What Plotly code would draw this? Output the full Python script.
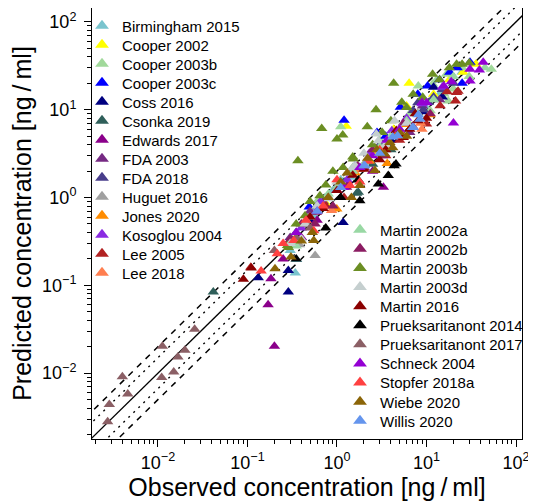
import plotly.graph_objects as go

studies = ["Birmingham 2015", "Cooper 2002", "Cooper 2003b", "Cooper 2003c", "Coss 2016",
           "Csonka 2019", "Edwards 2017", "FDA 2003", "FDA 2018", "Huguet 2016", "Jones 2020",
           "Kosoglou 2004", "Lee 2005", "Lee 2018", "Martin 2002a", "Martin 2002b",
           "Martin 2003b", "Martin 2003d", "Martin 2016", "Prueksaritanont 2014",
           "Prueksaritanont 2017", "Schneck 2004", "Stopfer 2018a", "Wiebe 2020", "Willis 2020"]

colors = ["#79c4ce", "#ffff00", "#a1d99b", "#0000ff", "#000080", "#2f5f5a", "#8b008b",
          "#762a83", "#483d8b", "#a0a0a0", "#ff8c00", "#8a2be2", "#b22222", "#ff7f50",
          "#99d8a4", "#8b1c62", "#6b8e23", "#c5cfcf", "#8b0000", "#000000", "#8b5f65",
          "#9400d3", "#ff4040", "#8b6508", "#6495ed"]

obs = {
    "Birmingham 2015": [0.342, 0.354, 0.30, 0.55, 0.9, 1.4, 2.2, 3.5, 6.0, 9.5, 14, 25, 1.1, 0.7, 0.42, 4.5],
    "Cooper 2002": [6.4, 35.7, 25.6, 6.0, 1.27, 0.77, 12, 18, 2.5, 4.3],
    "Cooper 2003b": [16.7, 11.7, 20, 17.5, 53, 8.1, 15.6, 11, 1.1, 25, 30, 13, 6.5, 3, 1.5, 0.6, 9],
    "Cooper 2003c": [1.2, 0.49, 10.3, 18.2, 30.6, 5.1, 2.8, 14, 22, 8, 1.6, 3.5, 25],
    "Coss 2016": [0.286, 0.286, 0.132, 1.17, 0.5, 2.0, 4, 9, 15, 12],
    "Csonka 2019": [0.0415, 1.66, 1.73, 0.8, 0.45, 2.5, 3.2, 5.5, 0.6, 1.2, 0.35, 4],
    "Edwards 2017": [0.2, 0.17, 0.183, 3.3, 0.25, 0.6, 1.3, 2.5, 0.4],
    "FDA 2003": [0.5, 1.0, 2.2, 5, 9, 0.3, 1.5, 14, 3.5, 0.7, 6.5],
    "FDA 2018": [10.5, 7.1, 9.2, 12, 20, 5, 3, 8, 15],
    "Huguet 2016": [0.57, 0.38, 0.3, 0.7, 1.2, 2.0, 0.45],
    "Jones 2020": [3.64, 0.995, 11, 0.6, 1.6, 6, 2.3],
    "Kosoglou 2004": [4.1, 8.9, 0.65, 1.3, 2.3, 0.4, 6, 15, 1.0, 3.0],
    "Lee 2005": [21.7, 21.1, 14.2, 10, 22.5, 0.109, 0.75, 2, 5, 17, 1.2, 3.5, 8],
    "Lee 2018": [0.87, 8.9, 8.6, 0.45, 1.8, 3.5, 5.5],
    "Martin 2002a": [0.35, 0.5, 1.0, 2.0, 4.0, 8.0, 12, 20, 45, 0.8, 0.6, 1.5, 3, 6],
    "Martin 2002b": [0.59, 0.57, 1.28, 0.3, 0.8, 2.5, 4.5, 7, 1.7, 0.4, 11, 3.2, 5.5, 0.9],
    "Martin 2003b": [0.366, 0.675, 1.0, 1.16, 2.73, 4.3, 2.18, 11.7, 1.5, 0.75, 0.44, 0.35,
                     21.7, 7.1, 9.1, 5.3, 0.28, 18, 6.0, 1.17, 1.52, 0.645, 0.286, 3.2, 25,
                     0.5, 0.9, 2.5, 4.0, 14, 30],
    "Martin 2003d": [2.9, 4.4, 1.52, 1.3, 2.75, 1.6, 0.82, 0.44, 0.4, 0.3, 3.5, 6, 0.6, 1.0, 2.0, 5],
    "Martin 2016": [5.5, 0.11, 0.09, 6.5, 8, 3.5, 2.0, 1.0, 0.5, 10, 4.6, 1.5, 3, 7.5, 0.7],
    "Prueksaritanont 2014": [4.56, 3.74, 2.9, 1.8, 1.73, 4.35, 0.75, 0.35, 1.1],
    "Prueksaritanont 2017": [0.00274, 0.00286, 0.0040, 0.0046, 0.0112, 0.011, 0.015, 0.0167,
                             0.020, 0.0257, 0.2, 0.35, 0.5],
    "Schneck 2004": [43, 39, 30.6, 30.6, 15.6, 20, 8.9, 18.9, 1.2, 0.6, 2.5, 5, 0.35, 1.8, 3.6, 10],
    "Stopfer 2018a": [0.142, 0.215, 0.33, 1.4, 0.7, 2.2, 0.45, 1.0, 3, 0.55, 0.25, 1.8, 4.5],
    "Wiebe 2020": [2.65, 3.9, 3.4, 1.8, 1.45, 0.55, 0.53, 0.306, 0.203, 3.15, 4.2, 1.1, 2.2, 0.8, 5,
                   1.3, 2.8, 6, 0.4],
    "Willis 2020": [8.45, 7.0, 8.1, 7.1, 2.05, 4.75, 4.2, 2.0, 1.1, 0.6, 3],
}

pred = {
    "Birmingham 2015": [0.138, 0.197, 0.25, 0.62, 1.2, 1.7, 2.6, 3.9, 7.2, 11, 15, 27, 1.6, 0.9, 0.5, 5.5],
    "Cooper 2002": [20, 33, 26.8, 11.0, 6.5, 0.83, 15, 22, 3.2, 6.0],
    "Cooper 2003b": [25.4, 19.6, 17.2, 12.6, 29, 18.6, 15.1, 9.75, 6.4, 30, 24, 22, 9, 4.5, 2.2, 0.9, 14],
    "Cooper 2003c": [7.6, 0.78, 18.6, 26.8, 34.7, 10.7, 5.5, 22, 30, 15, 2.3, 5, 20],
    "Coss 2016": [0.084, 0.148, 0.122, 0.52, 0.55, 2.2, 4.5, 9.5, 14, 18],
    "Csonka 2019": [0.084, 1.12, 1.15, 1.0, 0.5, 2.4, 4, 5.2, 0.8, 1.5, 0.4, 3.5],
    "Edwards 2017": [0.0203, 0.06, 0.119, 1.31, 0.2, 0.55, 1.5, 2.0, 0.35],
    "FDA 2003": [0.7, 1.3, 2.6, 6, 11, 0.35, 2.0, 13, 4.0, 0.9, 5.5],
    "FDA 2018": [12.1, 9.8, 10.0, 14, 20, 6, 4, 12, 17],
    "Huguet 2016": [0.219, 0.29, 0.3, 0.8, 1.4, 2.4, 0.5],
    "Jones 2020": [2.45, 0.74, 8.8, 0.7, 1.9, 6.8, 2.6],
    "Kosoglou 2004": [5.75, 11.7, 0.9, 1.6, 3.2, 0.45, 8, 18, 1.2, 3.6],
    "Lee 2005": [15.7, 12.6, 11.1, 6.9, 16.2, 0.161, 0.8, 2.2, 4.5, 16, 1.0, 3.0, 9],
    "Lee 2018": [0.71, 6.0, 7.0, 0.55, 2.1, 3.8, 5],
    "Martin 2002a": [0.28, 0.6, 1.3, 2.4, 5.0, 9.0, 13, 24, 30, 1.1, 0.8, 2.0, 3.8, 7.5],
    "Martin 2002b": [0.68, 0.5, 1.31, 0.33, 1.0, 3.5, 5.2, 6.5, 2.3, 0.5, 9, 3.0, 7.0, 0.8],
    "Martin 2003b": [2.63, 6.1, 4.65, 5.15, 10, 20, 6.4, 25.4, 2.9, 1.39, 0.62, 0.5,
                     33, 15, 13.8, 12.2, 0.285, 30, 10.6, 2.2, 2.75, 1.05, 0.27, 5.5, 33,
                     0.9, 2.0, 4.0, 7.5, 22, 34],
    "Martin 2003d": [4.45, 7.5, 2.2, 1.9, 5.3, 2.3, 0.97, 0.5, 0.34, 0.3, 4.0, 7, 0.8, 1.5, 3.2, 6],
    "Martin 2016": [4.84, 0.158, 0.117, 6, 7.5, 3.5, 2.1, 1.2, 0.6, 8, 5.8, 1.8, 2.7, 9, 0.75],
    "Prueksaritanont 2014": [2.41, 1.78, 1.43, 0.92, 1.58, 2.3, 0.45, 0.2, 1.0],
    "Prueksaritanont 2017": [0.0028, 0.0044, 0.0091, 0.0058, 0.0203, 0.0089, 0.0103, 0.0153,
                             0.0182, 0.0316, 0.25, 0.35, 0.45],
    "Schneck 2004": [34.7, 28.3, 29, 21.3, 18.6, 7.06, 12.1, 20.9, 1.3, 0.7, 3.0, 6, 0.4, 2.2, 4.5, 12],
    "Stopfer 2018a": [0.146, 0.229, 0.325, 1.37, 0.8, 2.6, 0.55, 1.6, 3.5, 0.42, 0.3, 1.5, 5],
    "Wiebe 2020": [2.03, 4.25, 3.15, 1.37, 1.0, 0.325, 0.4, 0.21, 0.155, 3.15, 3.7, 1.5, 2.8, 1.0, 5.5,
                   1.9, 3.5, 5, 0.32],
    "Willis 2020": [7.8, 6.3, 8.8, 6.3, 2.31, 5.07, 4.9, 2.3, 1.3, 0.7, 3.2],
}

ref_x = [1e-3, 1e3]
fold_lines = [(1.0, "solid", 1.4), (1.5, "2px,5px", 1.4), (1 / 1.5, "2px,5px", 1.4),
              (2.0, "6px,6px", 1.5), (0.5, "6px,6px", 1.5)]

tick_vals = [1e-2, 1e-1, 1e0, 1e1, 1e2]
tick_text = ["10<sup>\u22122</sup>", "10<sup>\u22121</sup>", "10<sup>0</sup>",
             "10<sup>1</sup>", "10<sup>2</sup>"]
minor_vals = [k * 10.0 ** p for p in range(-3, 3) for k in range(2, 10)]

fig = go.Figure()
for f, dash, w in fold_lines:
    fig.add_trace(go.Scatter(x=ref_x, y=[v * f for v in ref_x], mode="lines",
                             line=dict(color="black", dash=dash, width=w),
                             showlegend=False, hoverinfo="skip"))

# The page body adds an 8 px offset; the figure is sized so the plot lands where intended.
OFF = 8
W, H = 536 - OFF, 504 - OFF
ML, MR, MT, MB = 92 - OFF, 14, 0, 65
plot_w = W - ML - MR
plot_h = H - MT - MB

font = "Liberation Sans, Arial, sans-serif"
legend_layout = {}
for i, (name, col) in enumerate(zip(studies, colors)):
    key = "legend" if i == 0 else f"legend{i + 1}"
    fig.add_trace(go.Scatter(
        x=obs[name], y=pred[name], mode="markers", name=name,
        marker=dict(symbol="triangle-up", size=10, color=col, line=dict(width=0)),
        legend=key))
    if i < 14:
        px_left, py = 74, 26 + 19 * i
    else:
        px_left, py = 332, 230 + 19.1 * (i - 14)
    py -= OFF
    legend_layout[key] = dict(
        x=(px_left - ML) / plot_w, y=(MT + plot_h - py) / plot_h,
        xanchor="left", yanchor="middle", xref="paper", yref="paper",
        bgcolor="rgba(0,0,0,0)", borderwidth=0, itemsizing="constant",
        font=dict(size=15, color="black", family=font))

axis_common = dict(type="log", showgrid=False, zeroline=False, showline=True, linecolor="black",
                   linewidth=1, mirror=True, ticks="outside", ticklen=7, tickcolor="black",
                   tickmode="array", tickvals=tick_vals, ticktext=tick_text, automargin=False,
                   tickfont=dict(size=18, color="black", family=font),
                   minor=dict(ticks="outside", ticklen=4, tickcolor="black",
                              tickmode="array", tickvals=minor_vals, showgrid=False))

fig.update_xaxes(range=[-2.737, 2.067], **axis_common,
                 title=dict(text="Observed concentration [ng\u2009/\u2009ml]",
                            font=dict(size=25, color="black", family=font), standoff=6))
fig.update_yaxes(range=[-2.75, 2.159], **axis_common, ticklabelstandoff=4,
                 title=dict(text="Predicted concentration [ng\u2009/\u2009ml]",
                            font=dict(size=25, color="black", family=font), standoff=7))

fig.update_layout(
    width=W, height=H,
    margin=dict(l=ML, r=MR, t=MT, b=MB),
    paper_bgcolor="white", plot_bgcolor="white",
    font=dict(family=font, color="black"),
    **legend_layout,
)

fig.write_html("out.html")
